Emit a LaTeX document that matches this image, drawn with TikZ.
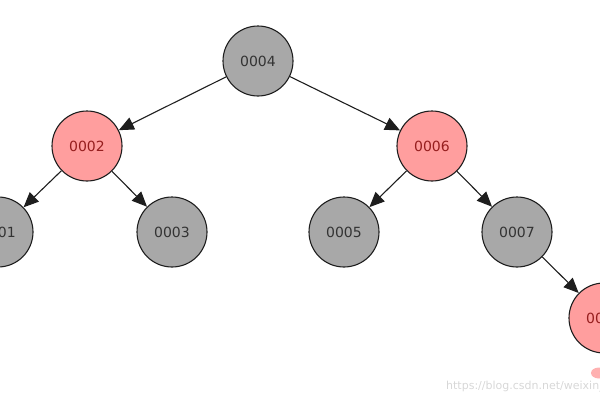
\documentclass[tikz,border=0pt]{standalone}
\usepackage{fontspec}
\setmainfont{DejaVu Sans}
\usetikzlibrary{arrows.meta,shapes.geometric}
\definecolor{nodegray}{RGB}{168,168,168}
\definecolor{nodepink}{RGB}{255,158,158}
\definecolor{textred}{RGB}{150,30,30}
\definecolor{edgedark}{RGB}{30,30,30}
\definecolor{wmgray}{RGB}{215,215,215}
\begin{document}
\begin{tikzpicture}[x=1pt,y=-1pt,
  blacknode/.style={circle,draw=edgedark,line width=1.1pt,fill=nodegray,minimum size=70pt,inner sep=0pt,
    font=\fontsize{14}{16}\selectfont,text=black!80},
  rednode/.style={blacknode,fill=nodepink,text=textred},
  edge/.style={draw=edgedark,line width=1.1pt,-{Triangle[length=15pt,width=13pt]}}]
\useasboundingbox (0,0) rectangle (600,400);
\clip (0,0) rectangle (600,400);
\node[blacknode] (n4) at (258,61) {0004};
\node[rednode] (n2) at (87,146) {0002};
\node[rednode] (n6) at (432,146) {0006};
\node[blacknode] (n1) at (-2,232) {0001};
\node[blacknode] (n3) at (172,232) {0003};
\node[blacknode] (n5) at (344,232) {0005};
\node[blacknode] (n7) at (517,232) {0007};
\node[rednode] (n8) at (604,318) {0008};
\draw[edge] (n4) -- (n2);
\draw[edge] (n4) -- (n6);
\draw[edge] (n2) -- (n1);
\draw[edge] (n2) -- (n3);
\draw[edge] (n6) -- (n5);
\draw[edge] (n6) -- (n7);
\draw[edge] (n7) -- (n8);
\node[anchor=base west,inner sep=0pt,text=wmgray,font=\fontsize{11}{12}\selectfont] (wm) at (446,389) {https://blog.csdn.net/weixin\_};
\node[ellipse,fill=nodepink!80,minimum width=16pt,minimum height=11pt,inner sep=0pt] (logo) at (599,373) {};
\end{tikzpicture}
\end{document}
